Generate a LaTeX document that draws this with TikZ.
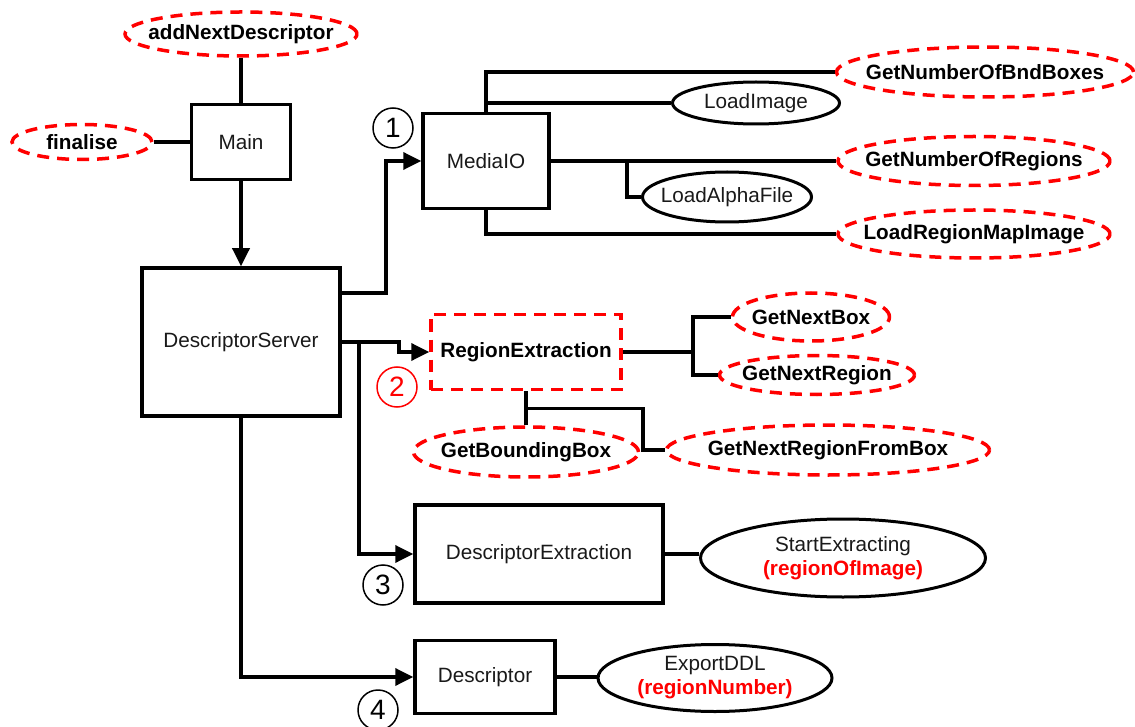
\documentclass[tikz,border=0pt]{standalone}
\usepackage{fontspec}
\setmainfont{Liberation Sans}
\usepackage{xcolor}
\usetikzlibrary{arrows.meta, shapes.geometric}

\newcommand{\dgfont}{\fontsize{20.7}{25}\selectfont}

\tikzset{
  box/.style={draw, rectangle, line width=3.5pt, inner sep=0pt, text=black!90},
  redbox/.style={draw=red, rectangle, line width=3.5pt, dash pattern=on 12pt off 8pt, inner sep=0pt, font=\dgfont\bfseries},
  meth/.style={draw, ellipse, line width=3pt, inner xsep=-40pt, inner ysep=0pt, text=black!90},
  redmeth/.style={draw=red, ellipse, line width=3.5pt, dash pattern=on 12pt off 8pt, inner xsep=-40pt, inner ysep=0pt, font=\dgfont\bfseries},
  link/.style={line width=3.5pt},
  arr/.style={line width=3.5pt, -{Triangle[length=18pt, width=17pt]}},
  num/.style={draw, circle, line width=1.5pt, minimum size=40pt, inner sep=0pt, font=\fontsize{28}{30}\selectfont}
}

\begin{document}
\begin{tikzpicture}[x=1pt, y=-1pt, font=\dgfont]
  \useasboundingbox (0,0) rectangle (1135,727);

  % main and server
  \node[redmeth, minimum width=232, minimum height=44] (add) at (241,34) {addNextDescriptor};
  \node[redmeth, minimum width=140, minimum height=35] (fin) at (82,142) {finalise};
  \node[box, minimum width=99, minimum height=75] (main) at (241,142) {Main};
  \node[box, minimum width=198, minimum height=148] (srv) at (241,342) {DescriptorServer};
  \draw[link] (add) -- (main);
  \draw[link] (fin) -- (main);
  \draw[arr] (main.south) -- (srv.north);

  % MediaIO
  \node[box, minimum width=126, minimum height=95] (mio) at (486,161) {MediaIO};
  \node[redmeth, minimum width=297, minimum height=50] (bnd) at (985,72) {GetNumberOfBndBoxes};
  \node[meth, minimum width=167, minimum height=42] (limg) at (756,103) {LoadImage};
  \node[redmeth, minimum width=272, minimum height=49] (nreg) at (974,161) {GetNumberOfRegions};
  \node[meth, minimum width=169, minimum height=50] (alpha) at (727,197) {LoadAlphaFile};
  \node[redmeth, minimum width=272, minimum height=48] (rmap) at (974,234) {LoadRegionMapImage};
  \node[num] (c1) at (393,128) {1};
  \draw[arr] (srv.east |- 0,293) -- (386,293) |- (mio.west);
  \draw[link] (mio.north) |- (bnd.west);
  \draw[link] (mio.north |- limg.west) -- (limg.west);
  \draw[link] (mio.east) -- (nreg.west);
  \draw[link] ([xshift=76pt]mio.east) |- (alpha.west);
  \draw[link] (mio.south) |- (rmap.west);

  % RegionExtraction
  \node[redbox, minimum width=190, minimum height=75] (rex) at (526,352) {RegionExtraction};
  \node[redmeth, minimum width=157, minimum height=48] (nbox) at (811,317) {GetNextBox};
  \node[redmeth, minimum width=195, minimum height=39] (gnr) at (817,375) {GetNextRegion};
  \node[redmeth, minimum width=225, minimum height=50] (gbb) at (526,452) {GetBoundingBox};
  \node[redmeth, minimum width=323, minimum height=50] (gnrfb) at (828,450) {GetNextRegionFromBox};
  \node[num, draw=red, text=red] (c2) at (397,387) {2};
  \draw[arr] (srv.east) -- ++(57,0) |- (rex.west);
  \draw[link] (rex.east) -- ++(70,0);
  \draw[link] (nbox.west) -| ([xshift=70pt]rex.east) |- (gnr.west);
  \draw[link] (rex.south) -- (gbb.north);
  \draw[link] ([yshift=-17pt]rex.south) -| ([xshift=-22pt]gnrfb.west) -- (gnrfb.west);

  % DescriptorExtraction
  \node[box, minimum width=248, minimum height=98] (dex) at (539,554) {DescriptorExtraction};
  \node[meth, minimum width=285, minimum height=78, align=center] (start) at (843,558)
    {StartExtracting\\[-1pt]\textcolor{red}{\bfseries(regionOfImage)}};
  \node[num] (c3) at (383,585) {3};
  \draw[arr] ([xshift=17pt]srv.east) |- (dex.west);
  \draw[link] (dex.east) -- (dex.east -| start.west);

  % Descriptor
  \node[box, minimum width=140, minimum height=73] (desc) at (485,677) {Descriptor};
  \node[meth, minimum width=234, minimum height=67, align=center] (export) at (715,678)
    {ExportDDL\\[-1pt]\textcolor{red}{\bfseries(regionNumber)}};
  \node[num] (c4) at (378,710) {4};
  \draw[arr] (srv.south) |- (desc.west);
  \draw[link] (desc.east) -- (desc.east -| export.west);
\end{tikzpicture}
\end{document}
